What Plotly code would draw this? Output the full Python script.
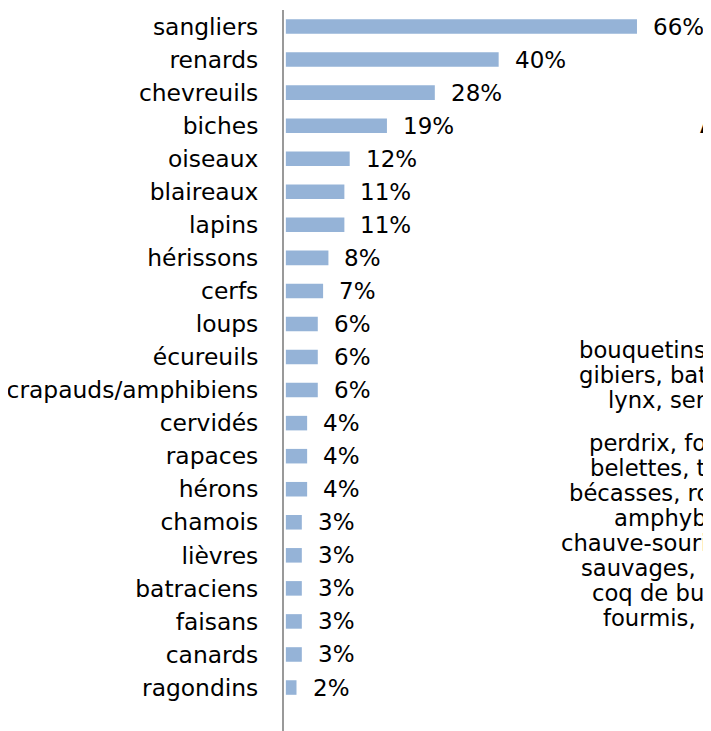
import plotly.graph_objects as go

# the page body has an 8px margin, so the figure is made 8px smaller
# and reference pixel positions are shifted by that much
OFF = 8
W, H = 711 - OFF, 731 - OFF
FONT = "DejaVu Sans"

animaux = ["sangliers", "renards", "chevreuils", "biches", "oiseaux", "blaireaux",
           "lapins", "hérissons", "cerfs", "loups", "écureuils", "crapauds/amphibiens",
           "cervidés", "rapaces", "hérons", "chamois", "lièvres", "batraciens",
           "faisans", "canards", "ragondins"]
pourcentages = [66, 40, 28, 19, 12, 11, 11, 8, 7, 6, 6, 6, 4, 4, 4, 3, 3, 3, 3, 3, 2]

titre_autres = "<b>Autres animaux cités :</b>"
autres_lignes = ["bouquetins, chamois, mouflons,", "gibiers, batraciens, vipères,",
                 "lynx, serpents", "perdrix, fouines, martres,",
                 "belettes, tortues, grenouilles,", "bécasses, rongeurs, putois,",
                 "amphybiens, crapauds,", "chauve-souris, chats",
                 "sauvages, blaireaux,", "coq de buyère, vaches,",
                 "fourmis, poissons"]
autres_left = [577, 577, 606, 587, 588, 567, 612, 559, 579, 590, 601]
autres_y = [350, 375, 400, 443, 468, 493, 518, 543, 568, 593, 618]

L, T = 284 - OFF, 10 - OFF
PW, PH = W - L, H - T


def px(x):
    return (x - OFF - L) / PW


def py(y):
    return (H - (y - OFF)) / PH


fig = go.Figure(go.Bar(
    x=pourcentages, y=animaux, orientation="h",
    marker=dict(color="#95B3D7", line=dict(width=0)),
    hoverinfo="x+y",
))

for a, p in zip(animaux, pourcentages):
    fig.add_annotation(x=p, y=a, text=f"{p}%", xanchor="left", xshift=14,
                       showarrow=False, font=dict(family=FONT, size=23, color="black"))

fig.add_annotation(xref="paper", yref="paper", x=px(698), y=py(125), text=titre_autres,
                   xanchor="left", yanchor="middle", showarrow=False,
                   font=dict(family=FONT, size=23, color="black"))
for txt, lx, ly in zip(autres_lignes, autres_left, autres_y):
    fig.add_annotation(xref="paper", yref="paper", x=px(lx), y=py(ly), text=txt,
                       xanchor="left", yanchor="middle", showarrow=False,
                       font=dict(family=FONT, size=22.7, color="black"))

unit = 33.05
fig.update_layout(
    width=W, height=H,
    margin=dict(l=L, r=0, t=T, b=0, pad=0, autoexpand=False),
    plot_bgcolor="white", paper_bgcolor="white",
    bargap=0.56, showlegend=False,
    font=dict(family=FONT, size=23, color="black"),
)
fig.update_xaxes(range=[-0.35, -0.35 + PW / 5.32], visible=False, fixedrange=True,
                 automargin=False)
fig.update_yaxes(
    categoryorder="array", categoryarray=animaux,
    range=[-0.5 + PH / unit, -0.5],
    showline=True, linecolor="#999999", linewidth=2,
    showgrid=False, ticks="", ticklabelstandoff=19, automargin=False,
    tickfont=dict(family=FONT, size=23.4, color="black"), fixedrange=True,
)

fig.write_html("out.html")
